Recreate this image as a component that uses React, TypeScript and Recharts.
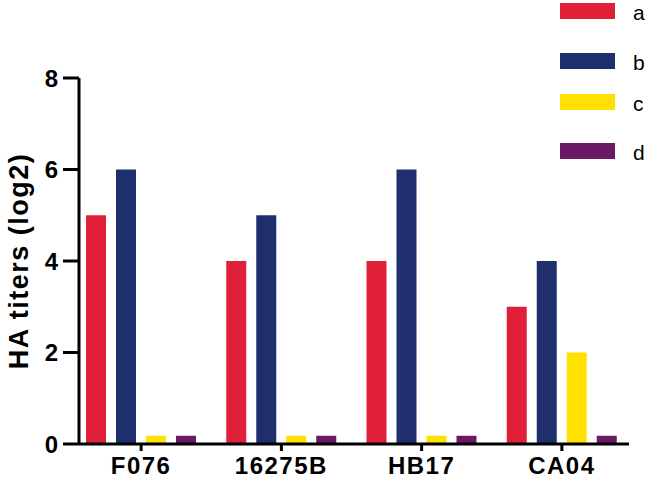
import { BarChart, Bar, XAxis, YAxis } from "recharts"

const categories = ["F076", "16275B", "HB17", "CA04"]
const seriesA = [5, 4, 4, 3]
const seriesB = [6, 5, 6, 4]
const seriesC = [0.18, 0.18, 0.18, 2]
const seriesD = [0.18, 0.18, 0.18, 0.18]
const yTicks = [0, 2, 4, 6, 8]

const series = [
  { key: "a", color: "#E02039" },
  { key: "b", color: "#1F2F6E" },
  { key: "c", color: "#FFE100" },
  { key: "d", color: "#6B1962" },
]

const data = categories.map((name, i) => ({
  name,
  a: seriesA[i],
  b: seriesB[i],
  c: seriesC[i],
  d: seriesD[i],
}))

const legendTops = [3, 53, 94, 143]
const font = "'Liberation Sans', Arial, sans-serif"

const YLabel = ({ viewBox }: any) => {
  const cy = viewBox.y + viewBox.height / 2
  return (
    <text
      x={28}
      y={cy}
      transform={`rotate(-90, 28, ${cy})`}
      textAnchor="middle"
      fontFamily={font}
      fontWeight={700}
      fontSize={27}
      letterSpacing={1.5}
      fill="#000"
    >
      HA titers (log2)
    </text>
  )
}

export default function App() {
  return (
    <div style={{ position: "absolute", left: 0, top: 0, width: 650, height: 484, background: "#fff" }}>
      <BarChart
        width={650}
        height={484}
        data={data}
        margin={{ top: 78, right: 21, left: 0, bottom: 0 }}
        barSize={20}
        barGap={10}
      >
        <XAxis
          dataKey="name"
          height={40}
          padding={{ left: -8, right: -3 }}
          axisLine={{ stroke: "#000", strokeWidth: 3 }}
          tickLine={{ stroke: "#000", strokeWidth: 3 }}
          tickSize={7}
          tickMargin={6}
          tick={{ fill: "#000", fontSize: 24, fontWeight: 700, fontFamily: font, letterSpacing: 1.5 }}
        />
        <YAxis
          width={79}
          domain={[0, 8]}
          ticks={yTicks}
          interval={0}
          axisLine={{ stroke: "#000", strokeWidth: 3 }}
          tickLine={{ stroke: "#000", strokeWidth: 3 }}
          tickSize={16}
          tickMargin={5}
          tick={{ fill: "#000", fontSize: 24, fontWeight: 700, fontFamily: font }}
          label={{ content: YLabel }}
        />
        {series.map((s) => (
          <Bar key={s.key} dataKey={s.key} fill={s.color} isAnimationActive={false} />
        ))}
      </BarChart>
      {series.map((s, i) => (
        <div
          key={s.key}
          style={{ position: "absolute", left: 560, top: legendTops[i], width: 86, height: 18 }}
        >
          <span style={{ position: "absolute", left: 0, top: 0, width: 55, height: 16, background: s.color }} />
          <span
            style={{ position: "absolute", left: 73, top: -2, fontFamily: font, fontSize: 21, color: "#000", lineHeight: "normal" }}
          >
            {s.key}
          </span>
        </div>
      ))}
    </div>
  )
}
